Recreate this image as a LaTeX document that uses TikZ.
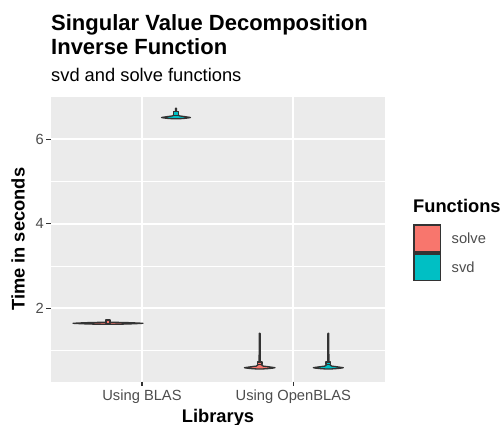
\documentclass[tikz,border=0pt]{standalone}
\usepackage{fontspec}
\setmainfont{Liberation Sans}
\definecolor{panelbg}{HTML}{EBEBEB}
\definecolor{solvecol}{HTML}{F8766D}
\definecolor{svdcol}{HTML}{00BFC4}
\definecolor{darkline}{HTML}{333333}
\definecolor{ticktext}{HTML}{4D4D4D}
\tikzset{
  majorgrid/.style={white, line width=1.78pt},
  minorgrid/.style={white, line width=0.9pt},
  tickmark/.style={darkline, line width=1.3pt},
  vline/.style={darkline, line width=1.3pt, line join=round},
  ticklab/.style={ticktext, font=\fontsize{14.7}{16}\selectfont, inner sep=0pt},
  axtitle/.style={black, font=\fontsize{18.3}{20}\selectfont\bfseries, inner sep=0pt},
  legkey/.style={darkline, line width=1.4pt},
}
% violin: #1 half width, #2 stem top (relative, negative), #3 colour, #4 box top, #5 box bottom
\newcommand\myviolin[5]{%
  \filldraw[vline, fill=#3]
    (-0.4,#2) -- (0.4,#2) -- (0.6,-6) .. controls (0.8,-3.5) and (1.8,-2.2) .. (3.5,-1.6)
    .. controls ({0.5*#1},-1.1) and ({0.85*#1},-0.4) .. (#1,0)
    .. controls ({0.85*#1},0.5) and ({0.5*#1},1.2) .. (0,1.3)
    .. controls ({-0.5*#1},1.2) and ({-0.85*#1},0.5) .. (-#1,0)
    .. controls ({-0.85*#1},-0.4) and ({-0.5*#1},-1.1) .. (-3.5,-1.6)
    .. controls (-1.8,-2.2) and (-0.8,-3.5) .. (-0.6,-6) -- cycle;
  \filldraw[vline, fill=#3] (-2.2,#4) rectangle (2.2,#5);
}
\begin{document}
\begin{tikzpicture}[x=1pt,y=-1pt]
\useasboundingbox (0,0) rectangle (501,425);
\fill[white] (0,0) rectangle (501,425);
% panel
\fill[panelbg] (51,97) rectangle (385,381.7);
\foreach \yy in {350.55,266.05,181.55} \draw[minorgrid] (51,\yy) -- (385,\yy);
\foreach \yy in {308.3,223.8,139.3} \draw[majorgrid] (51,\yy) -- (385,\yy);
\foreach \xx in {142,293.3} \draw[majorgrid] (\xx,97) -- (\xx,381.7);
% violins
\begin{scope}[shift={(108,323.3)}]
  \filldraw[vline, fill=solvecol]
    (-35,0) .. controls (-20,-0.9) and (-6,-1.0) .. (0,-1.0)
    .. controls (6,-1.0) and (20,-0.9) .. (35,0)
    .. controls (20,0.9) and (6,1.0) .. (0,1.0)
    .. controls (-6,1.0) and (-20,0.9) .. (-35,0) -- cycle;
  \filldraw[vline, fill=solvecol] (-2.0,-3.4) rectangle (2.0,0.4);
\end{scope}
\begin{scope}[shift={(176,117.5)}]
  \myviolin{14.5}{-9.2}{svdcol}{-6.0}{-2.0}
\end{scope}
\begin{scope}[shift={(259.7,367.7)}]
  \myviolin{15.3}{-34.4}{solvecol}{-5.8}{-3.2}
\end{scope}
\begin{scope}[shift={(328.3,367.7)}]
  \myviolin{15}{-34.4}{svdcol}{-5.8}{-3.2}
\end{scope}
% ticks
\foreach \yy in {308.3,223.8,139.3} \draw[tickmark] (46.4,\yy) -- (51,\yy);
\foreach \xx in {142,293.3} \draw[tickmark] (\xx,381.7) -- (\xx,386.3);
\node[ticklab, anchor=east] (y6) at (44,139.3) {6};
\node[ticklab, anchor=east] (y4) at (44,223.8) {4};
\node[ticklab, anchor=east] (y2) at (44,308.3) {2};
\node[ticklab, anchor=base] (xb) at (142,400.6) {Using BLAS};
\node[ticklab, anchor=base] (xo) at (293.3,400.6) {Using OpenBLAS};
% axis titles
\node[axtitle, anchor=base] (xt) at (218,422.3) {Librarys};
\node[axtitle, anchor=base, rotate=90] (yt) at (24.6,239.3) {Time in seconds};
% titles
\node[anchor=base west, inner sep=0pt, font=\fontsize{22}{24}\selectfont\bfseries] (t1) at (51,31) {Singular Value Decomposition};
\node[anchor=base west, inner sep=0pt, font=\fontsize{22}{24}\selectfont\bfseries] (t2) at (51,54.5) {Inverse Function};
\node[anchor=base west, inner sep=0pt, font=\fontsize{18.3}{20}\selectfont] (st) at (51,81.6) {svd and solve functions};
% legend
\node[axtitle, anchor=base west] (lt) at (413,212.7) {Functions};
\filldraw[legkey, fill=solvecol] (414,225) rectangle (440.5,252);
\filldraw[legkey, fill=svdcol] (414,254) rectangle (440.5,280.5);
\node[ticklab, anchor=west] (l1) at (451.5,238.5) {solve};
\node[ticklab, anchor=west] (l2) at (451.5,267.3) {svd};
\end{tikzpicture}
\end{document}
